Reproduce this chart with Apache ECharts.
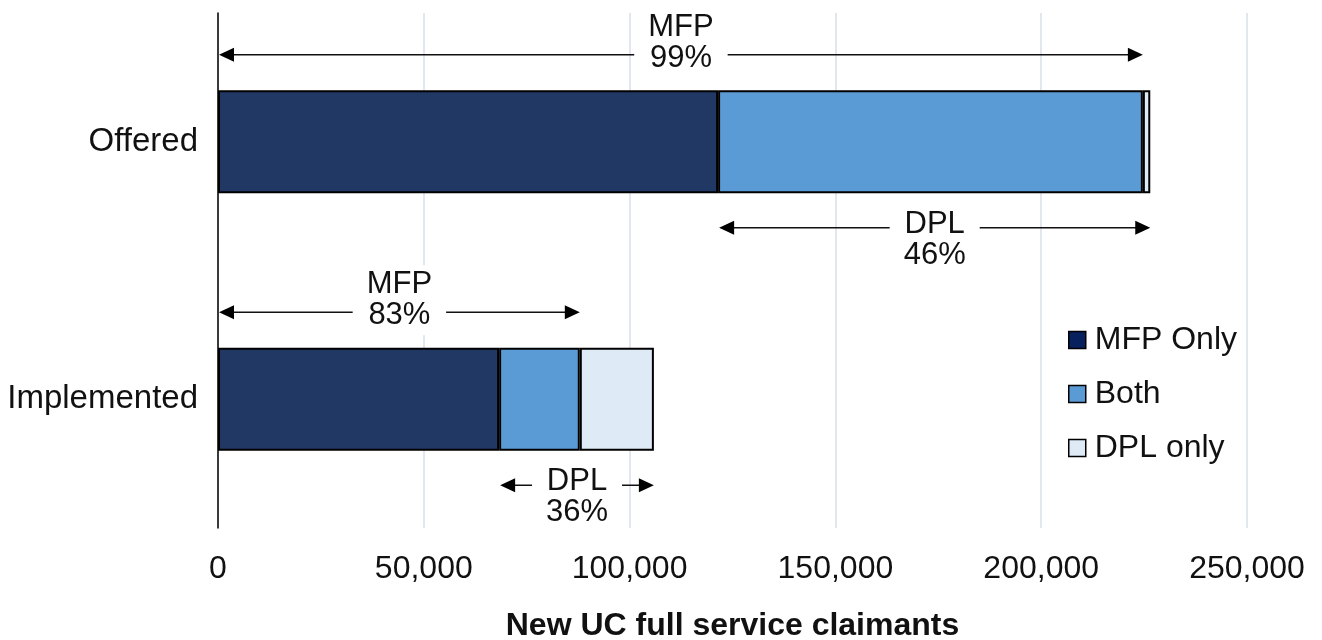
<!DOCTYPE html>
<html>
<head>
<meta charset="utf-8">
<script src="https://cdn.jsdelivr.net/npm/echarts@6/dist/echarts.min.js"></script>
<style>
  html, body { margin: 0; padding: 0; background: #fff; }
  #chart { width: 1322px; height: 640px; }
</style>
</head>
<body>
<div id="chart"></div>
<script>
// 数据
var categories = ['Offered', 'Implemented'];
var mfpOnly = [121500, 68300];
var both = [103200, 19600];
var dplOnly = [1800, 18000];
var mfpShare = ['99%', '83%'];
var dplShare = ['46%', '36%'];
var xTicks = [0, 50000, 100000, 150000, 200000, 250000];

var FONT = "'Liberation Sans', Arial, sans-serif";

// 箭头的起止点从柱子数据里算
var mfpSpans = categories.map(function (c, i) {
    return [0, mfpOnly[i] + both[i], i];
});
var dplSpans = categories.map(function (c, i) {
    return [mfpOnly[i], mfpOnly[i] + both[i] + dplOnly[i], i];
});

// 双向箭头 + 文字
function arrowItem(lineOffset, textOffset, title, shares) {
    return function (params, api) {
        var p1 = api.coord([api.value(0), api.value(2)]);
        var p2 = api.coord([api.value(1), api.value(2)]);
        var y = p1[1] + lineOffset;
        var x1 = p1[0] + 1, x2 = p2[0];
        var head = 15, half = 7;
        return {
            type: 'group',
            children: [
                {
                    type: 'line',
                    shape: {x1: x1 + head - 2, y1: y, x2: x2 - head + 2, y2: y},
                    style: {stroke: '#111', lineWidth: 1.4}
                },
                {
                    type: 'polygon',
                    shape: {points: [[x1, y], [x1 + head, y - half], [x1 + head, y + half]]},
                    style: {fill: '#000'}
                },
                {
                    type: 'polygon',
                    shape: {points: [[x2, y], [x2 - head, y - half], [x2 - head, y + half]]},
                    style: {fill: '#000'}
                },
                {
                    type: 'text',
                    x: (x1 + x2) / 2,
                    y: y + textOffset,
                    style: {
                        text: title + '\n' + shares[params.dataIndex],
                        fontFamily: FONT,
                        fontSize: 31,
                        lineHeight: 31,
                        fill: '#111',
                        align: 'center',
                        verticalAlign: 'middle',
                        backgroundColor: '#fff',
                        padding: [4, 14]
                    }
                }
            ]
        };
    };
}

var myChart = echarts.init(document.getElementById('chart'));

var barStyle = {borderColor: '#000', borderWidth: 2};

var option = {
    animation: false,
    backgroundColor: '#fff',
    grid: {left: 218, right: 75, top: 13, bottom: 112, outerBoundsMode: 'none', containLabel: false},
    legend: {
        orient: 'vertical',
        left: 1063,
        top: 319,
        itemWidth: 17,
        itemHeight: 17,
        itemGap: 22,
        icon: 'rect',
        itemStyle: {borderColor: '#000', borderWidth: 1.5},
        textStyle: {fontFamily: FONT, fontSize: 32, color: '#111', padding: [0, 0, 0, 4]},
        data: [
            {name: 'MFP Only', itemStyle: {color: '#06215e'}},
            {name: 'Both'},
            {name: 'DPL only'}
        ]
    },
    xAxis: {
        type: 'value',
        min: xTicks[0],
        max: xTicks[xTicks.length - 1],
        interval: xTicks[1] - xTicks[0],
        name: 'New UC full service claimants',
        nameLocation: 'middle',
        nameGap: 82,
        nameTextStyle: {fontFamily: FONT, fontSize: 32, fontWeight: 'bold', color: '#111'},
        axisLine: {show: false},
        axisTick: {show: false},
        axisLabel: {
            margin: 25,
            fontFamily: FONT,
            fontSize: 32,
            color: '#111',
            formatter: function (v) { return v.toLocaleString('en-US'); }
        },
        splitLine: {lineStyle: {color: '#d9dee8', width: 1.5}}
    },
    yAxis: {
        type: 'category',
        inverse: true,
        data: categories,
        axisLine: {lineStyle: {color: '#000', width: 1.5}},
        axisTick: {show: false},
        axisLabel: {margin: 20, fontFamily: FONT, fontSize: 33, color: '#111'}
    },
    series: [
        {name: 'MFP Only', type: 'bar', stack: 'total', barWidth: '40%',
         itemStyle: Object.assign({color: '#213864'}, barStyle), data: mfpOnly},
        {name: 'Both', type: 'bar', stack: 'total',
         itemStyle: Object.assign({color: '#5b9bd5'}, barStyle), data: both},
        {name: 'DPL only', type: 'bar', stack: 'total',
         itemStyle: Object.assign({color: '#deebf7'}, barStyle), data: dplOnly},
        {type: 'custom', renderItem: arrowItem(-87, -12, 'MFP', mfpShare),
         encode: {x: [0, 1], y: 2}, data: mfpSpans, z: 5},
        {type: 'custom', renderItem: arrowItem(86, 12, 'DPL', dplShare),
         encode: {x: [0, 1], y: 2}, data: dplSpans, z: 5}
    ]
};

myChart.setOption(option);
</script>
</body>
</html>
